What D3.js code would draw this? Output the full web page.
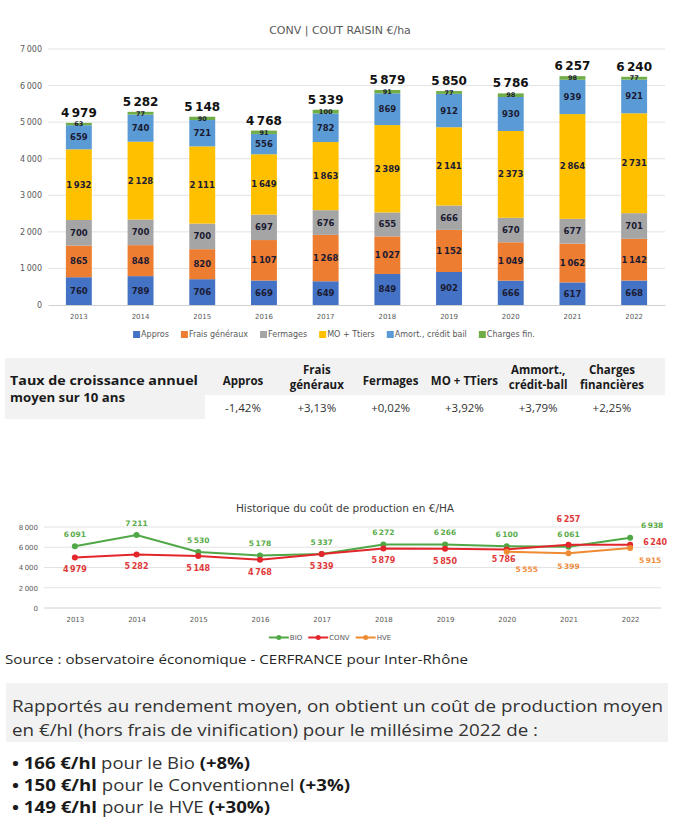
<!DOCTYPE html>
<html><head><meta charset="utf-8">
<script src="https://cdn.jsdelivr.net/npm/d3@7"></script>
<style>body{margin:0;background:#fff} svg{display:block}</style>
</head><body><svg id="c" width="687" height="837"></svg>
<script>
const years = [2013,2014,2015,2016,2017,2018,2019,2020,2021,2022];
const seriesNames = ["Appros","Frais généraux","Fermages","MO + Ttiers","Amort., crédit bail","Charges fin."];
const appros = [760,789,706,669,649,849,902,666,617,668];
const fraisGeneraux = [865,848,820,1107,1268,1027,1152,1049,1062,1142];
const fermages = [700,700,700,697,676,655,666,670,677,701];
const moTtiers = [1932,2128,2111,1649,1863,2389,2141,2373,2864,2731];
const amort = [659,740,721,556,782,869,912,930,939,921];
const chargesFin = [63,77,90,91,100,91,77,98,98,77];
const totals = [4979,5282,5148,4768,5339,5879,5850,5786,6257,6240];
const barTicks = [0,1000,2000,3000,4000,5000,6000,7000];

const growthHeaders = [["Appros"],["Frais","généraux"],["Fermages"],["MO + TTiers"],["Ammort.,","crédit-ball"],["Charges","financières"]];
const growthRates = ["-1,42%","+3,13%","+0,02%","+3,92%","+3,79%","+2,25%"];

const lineNames = ["BIO","CONV","HVE"];
const bio = [6091,7211,5530,5178,5337,6272,6266,6100,6061,6938];
const conv = [4979,5282,5148,4768,5339,5879,5850,5786,6257,6240];
const hve = [null,null,null,null,null,null,null,5555,5399,5915];
const lineTicks = [0,2000,4000,6000,8000];

const barColors = ["#4472C4","#ED7D31","#A5A5A5","#FFC000","#5B9BD5","#70AD47"];
const lineColors = ["#4fa845","#e2262b","#f08a32"];
const lineLabelColors = ["#5aab4a","#e0393a","#ef8d3c"];

const F = "'DejaVu Sans', sans-serif";
const F2 = "'Open Sans', sans-serif";
const fmt = v => d3.format(",")(v).replace(/,/g, "\u202F");

const svg = d3.select("#c");

// ---------- Stacked bar chart ----------
const stackRows = years.map((y,i)=>({year:y, s0:appros[i], s1:fraisGeneraux[i], s2:fermages[i], s3:moTtiers[i], s4:amort[i], s5:chargesFin[i]}));
const keys = ["s0","s1","s2","s3","s4","s5"];
const stacked = d3.stack().keys(keys)(stackRows);

const x = d3.scaleBand().domain(years).range([48,665]).paddingInner(0.58).paddingOuter(0.29);
const y = d3.scaleLinear().domain([0,7000]).range([305,49]);

svg.append("text").attr("x",340).attr("y",34).attr("text-anchor","middle")
  .attr("font-family",F).attr("font-size",11).attr("fill","#595959").text("CONV | COUT RAISIN €/ha");

svg.append("g").selectAll("line").data(barTicks.filter(t=>t>0)).join("line")
  .attr("x1",48).attr("x2",665).attr("y1",d=>y(d)).attr("y2",d=>y(d))
  .attr("stroke","#e3e3e3").attr("stroke-width",1);

const yAx = svg.append("g").attr("transform","translate(42,0)")
  .call(d3.axisLeft(y).tickValues(barTicks).tickSize(0).tickPadding(0).tickFormat(fmt));
yAx.select(".domain").remove();
yAx.selectAll("text").attr("font-family",F).attr("font-size",8).attr("fill","#595959");

const xAx = svg.append("g").attr("transform","translate(0,305)")
  .call(d3.axisBottom(x).tickSize(0).tickPadding(9));
xAx.select(".domain").attr("stroke","#d0d0d0");
xAx.selectAll("text").attr("font-family",F).attr("font-size",7).attr("fill","#595959");

const layers = svg.append("g").selectAll("g").data(stacked).join("g").attr("fill",(d,i)=>barColors[i]);
layers.selectAll("rect").data(d=>d).join("rect")
  .attr("x",d=>x(d.data.year)).attr("width",x.bandwidth())
  .attr("y",d=>y(d[1])).attr("height",d=>y(d[0])-y(d[1]));

const lab = svg.append("g");
stacked.forEach((layer,li)=>{
  lab.selectAll(null).data(layer).join("text")
    .attr("x",d=>x(d.data.year)+x.bandwidth()/2)
    .attr("y",d=>(y(d[0])+y(d[1]))/2)
    .attr("dy","0.35em").attr("text-anchor","middle")
    .attr("font-family",F).attr("font-weight","bold")
    .attr("font-size", li===5 ? 6.5 : 8.5)
    .attr("fill","#1b1b33")
    .text(d=>fmt(d[1]-d[0]));
});
svg.append("g").selectAll("text").data(years).join("text")
  .attr("x",d=>x(d)+x.bandwidth()/2).attr("y",(d,i)=>y(totals[i])-6)
  .attr("text-anchor","middle").attr("font-family",F).attr("font-weight","bold")
  .attr("font-size",12).attr("fill","#111").text((d,i)=>fmt(totals[i]));

// legend
const leg = svg.append("g").attr("font-family",F).attr("font-size",8).attr("fill","#595959");
let lx = 0; const legItems = [];
seriesNames.forEach((n,i)=>{
  const g = leg.append("g");
  g.append("rect").attr("x",0).attr("y",-6).attr("width",7).attr("height",7).attr("fill",barColors[i]);
  const t = g.append("text").attr("x",8).attr("y",0).text(n);
  legItems.push([g, 8 + t.node().getComputedTextLength()]);
});
const legTotal = d3.sum(legItems,d=>d[1]) + 12*(legItems.length-1);
lx = 334 - legTotal/2;
legItems.forEach(([g,w])=>{ g.attr("transform",`translate(${lx},337)`); lx += w + 12; });

// ---------- Table ----------
svg.append("rect").attr("x",5).attr("y",358).attr("width",660).attr("height",37).attr("fill","#f2f2f2");
svg.append("rect").attr("x",5).attr("y",395).attr("width",200).attr("height",24).attr("fill","#f2f2f2");
const tb = svg.append("g").attr("font-family",F2).attr("fill","#1a1a1a");
tb.append("text").attr("x",10).attr("y",385).attr("font-size",12).attr("font-weight","bold")
  .attr("textLength",188).attr("lengthAdjust","spacingAndGlyphs").text("Taux de croissance annuel");
tb.append("text").attr("x",10).attr("y",402).attr("font-size",12).attr("font-weight","bold")
  .attr("textLength",115).attr("lengthAdjust","spacingAndGlyphs").text("moyen sur 10 ans");
const colX = d3.scalePoint().domain(d3.range(growthHeaders.length)).range([243,612]);
growthHeaders.forEach((h,i)=>{
  const ys = h.length===1 ? [385] : [374,389];
  h.forEach((line,j)=>{
    tb.append("text").attr("x",colX(i)).attr("y",ys[j]).attr("text-anchor","middle")
      .attr("font-size",11.5).attr("font-weight","bold").text(line);
  });
  tb.append("text").attr("x",colX(i)).attr("y",412).attr("text-anchor","middle")
    .attr("font-size",11.5).attr("fill","#333").text(growthRates[i]);
});

// ---------- Line chart ----------
const x2 = d3.scalePoint().domain(years).range([44,661]).padding(0.5);
const y2 = d3.scaleLinear().domain([0,8000]).range([608,527]);

svg.append("text").attr("x",345).attr("y",512).attr("text-anchor","middle")
  .attr("font-family",F).attr("font-size",10.5).attr("fill","#404040").text("Historique du coût de production en €/HA");

svg.append("g").selectAll("line").data(lineTicks).join("line")
  .attr("x1",44).attr("x2",661).attr("y1",d=>y2(d)).attr("y2",d=>y2(d))
  .attr("stroke",d=>d===0?"#d0d0d0":"#e3e3e3");
const y2Ax = svg.append("g").attr("transform","translate(38,0)")
  .call(d3.axisLeft(y2).tickValues(lineTicks).tickSize(0).tickPadding(0).tickFormat(fmt));
y2Ax.select(".domain").remove();
y2Ax.selectAll("text").attr("font-family",F).attr("font-size",7).attr("fill","#595959");
const x2Ax = svg.append("g").attr("transform","translate(0,608)")
  .call(d3.axisBottom(x2).tickSize(0).tickPadding(9));
x2Ax.select(".domain").remove();
x2Ax.selectAll("text").attr("font-family",F).attr("font-size",7).attr("fill","#595959");

const lineSeries = [bio, conv, hve];
const line = d3.line().defined(d=>d.v!=null).x(d=>x2(d.y)).y(d=>y2(d.v));
// label placement offsets [dx, dy] per series (style, not data)
const place = (si,i)=>{
  if (si===0) return i===9 ? [22,-12] : [0,-12];
  if (si===1) return i===8 ? [0,-25] : (i===9 ? [25,-3] : (i===7 ? [-3,10] : [0,12]));
  return i===9 ? [20,12] : (i===7 ? [20,18] : [0,13]);
};
lineSeries.forEach((vals,si)=>{
  const pts = years.map((yy,i)=>({y:yy,v:vals[i],i}));
  const g = svg.append("g");
  g.append("path").attr("d",line(pts)).attr("fill","none").attr("stroke",lineColors[si]).attr("stroke-width",2);
  g.selectAll("circle").data(pts.filter(p=>p.v!=null)).join("circle")
    .attr("cx",p=>x2(p.y)).attr("cy",p=>y2(p.v)).attr("r",3).attr("fill",lineColors[si]);
  g.selectAll("text").data(pts.filter(p=>p.v!=null)).join("text")
    .attr("x",p=>x2(p.y)+place(si,p.i)[0]).attr("y",p=>y2(p.v)+place(si,p.i)[1])
    .attr("dy","0.35em").attr("text-anchor","middle")
    .attr("font-family",F).attr("font-size",si===1?8:7.5).attr("font-weight",si===1?"bold":"600")
    .attr("fill",lineLabelColors[si]).text(p=>fmt(p.v));
});
// line legend
const lleg = svg.append("g").attr("font-family",F).attr("font-size",7).attr("fill","#595959");
let llx = 0; const lItems=[];
lineNames.forEach((n,i)=>{
  const g = lleg.append("g");
  g.append("line").attr("x1",0).attr("x2",20).attr("y1",-2.5).attr("y2",-2.5).attr("stroke",lineColors[i]).attr("stroke-width",2);
  g.append("circle").attr("cx",10).attr("cy",-2.5).attr("r",2.5).attr("fill",lineColors[i]);
  const t = g.append("text").attr("x",21).attr("y",0).text(n);
  lItems.push([g, 21 + t.node().getComputedTextLength()]);
});
const lTot = d3.sum(lItems,d=>d[1]) + 6*(lItems.length-1);
llx = 330 - lTot/2;
lItems.forEach(([g,w])=>{ g.attr("transform",`translate(${llx},640)`); llx += w + 6; });

// ---------- Text block ----------
svg.append("text").attr("x",5).attr("y",664).attr("font-family",F2).attr("font-size",12)
  .attr("fill","#262626").attr("textLength",463).attr("lengthAdjust","spacingAndGlyphs")
  .text("Source : observatoire économique - CERFRANCE pour Inter-Rhône");
svg.append("rect").attr("x",6).attr("y",683).attr("width",662).attr("height",59).attr("fill","#f2f2f2");
svg.append("text").attr("x",12).attr("y",712).attr("font-family",F2).attr("font-size",16.5)
  .attr("fill","#333").attr("textLength",651).attr("lengthAdjust","spacingAndGlyphs")
  .text("Rapportés au rendement moyen, on obtient un coût de production moyen");
svg.append("text").attr("x",12).attr("y",736).attr("font-family",F2).attr("font-size",16.5)
  .attr("fill","#333").attr("textLength",526).attr("lengthAdjust","spacingAndGlyphs")
  .text("en €/hl (hors frais de vinification) pour le millésime 2022 de :");
const bullets = [["166 €/hl"," pour le Bio ","(+8%)"],["150 €/hl"," pour le Conventionnel ","(+3%)"],["149 €/hl"," pour le HVE ","(+30%)"]];
const bulletWidths = [238,338,258];
bullets.forEach((b,i)=>{
  const t = svg.append("text").attr("x",12).attr("y",769+i*22).attr("font-family",F2).attr("font-size",16).attr("fill","#1a1a1a")
    .attr("textLength",bulletWidths[i]).attr("lengthAdjust","spacingAndGlyphs");
  t.append("tspan").attr("font-weight","bold").text("• "+b[0]);
  t.append("tspan").attr("fill","#333").text(b[1]);
  t.append("tspan").attr("font-weight","bold").text(b[2]);
});
</script></body></html>
